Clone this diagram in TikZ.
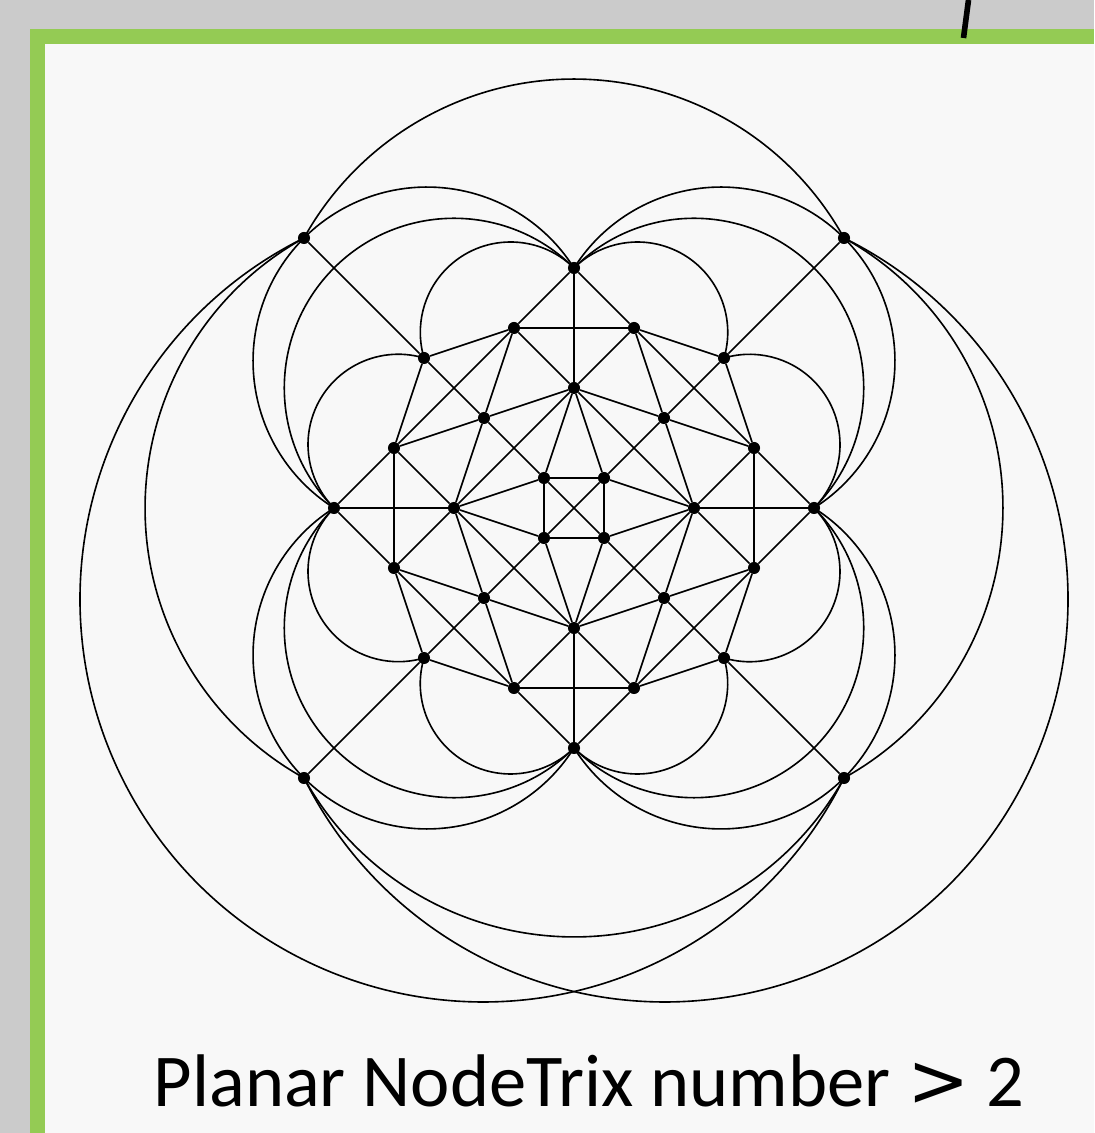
\documentclass[tikz,border=0pt]{standalone}
\usepackage{fontspec}
\setmainfont{Carlito}
\newfontfamily\symbolfont{DejaVu Sans}
\definecolor{framegreen}{RGB}{148,203,84}
\definecolor{photogrey}{RGB}{203,203,203}
\definecolor{paper}{RGB}{248,248,248}
\begin{document}
\begin{tikzpicture}[x=0.025cm,y=0.025cm,
  dot/.style={circle,fill=black,inner sep=0pt,minimum size=8.6pt},
  edge/.style={line width=1.15pt,draw=black}]
\useasboundingbox (0,0) rectangle (1094,1133);
% background and frame
\fill[photogrey] (0,0) rectangle (1094,1133);
\fill[framegreen] (30,0) rectangle (1094,1104);
\fill[paper] (45,0) rectangle (1094,1089);
\draw[line width=4pt,line cap=butt] (968.5,1133) -- (963.5,1095);
\begin{scope}[shift={(574,625)}]
  % vertices (four-fold rotational symmetry)
  \foreach \k in {0,1,2,3}{
    \begin{scope}[rotate=90*\k]
      \node[dot] (c\k)  at (-270,270) {};
      \node[dot] (n\k)  at (0,240) {};
      \node[dot] (p\k)  at (-150,150) {};
      \node[dot] (qa\k) at (-60,180) {};
      \node[dot] (qb\k) at (60,180) {};
      \node[dot] (i\k)  at (0,120) {};
      \node[dot] (d\k)  at (-90,90) {};
      \node[dot] (s\k)  at (-30,30) {};
    \end{scope}
  }
  % straight edges
  \foreach \k/\kn/\kp in {0/1/3,1/2/0,2/3/1,3/0/2}{
    \draw[edge] (c\k) -- (p\k);
    \draw[edge] (p\k) -- (d\k);
    \draw[edge] (d\k) -- (s\k);
    \draw[edge] (s\k) -- (s\kn);
    \draw[edge] (p\k) -- (qa\k);
    \draw[edge] (p\k) -- (qb\kn);
    \draw[edge] (n\k) -- (qa\k);
    \draw[edge] (n\k) -- (qb\k);
    \draw[edge] (n\k) -- (i\k);
    \draw[edge] (qa\k) -- (qb\k);
    \draw[edge] (qa\k) -- (i\k);
    \draw[edge] (qb\k) -- (i\k);
    \draw[edge] (qa\k) -- (d\k);
    \draw[edge] (qb\k) -- (d\kp);
    \draw[edge] (qa\k) -- (qb\kn);
    \draw[edge] (i\k) -- (d\k);
    \draw[edge] (i\k) -- (d\kp);
    \draw[edge] (i\k) -- (s\k);
    \draw[edge] (i\k) -- (s\kp);
    \draw[edge] (i\k) -- (i\kn);
  }
  \draw[edge] (s0) -- (s2);
  \draw[edge] (s1) -- (s3);
  % curved edges
  \foreach \k in {0,1,2,3}{
    % small petals
    \draw[edge] (n\k.center) arc[start angle={45.4+90*\k}, delta angle=151.1, radius=90.3];
    \draw[edge] (p\k.center) arc[start angle={73.47+90*\k}, delta angle=151.1, radius=90.3];
    % side to side
    \draw[edge] (n\k.center) arc[start angle={45+90*\k}, delta angle=180, radius=169.71];
    % side to corner, corner to side
    \draw[edge] (n\k.center) arc[start angle={32.32+90*\k}, delta angle=102.68, radius=173.95];
    \draw[edge] (c\k.center) arc[start angle={135+90*\k}, delta angle=102.68, radius=173.95];
  }
  % corner to corner
  \foreach \k/\kp in {0/3,1/0,2/1,3/2}{
    \draw[edge] (c\kp.center) arc[start angle={29.05+90*\k}, delta angle=121.89, radius=308.87];
  }
  % two long arcs
  \draw[edge] (c0.center) arc[start angle=116.375, delta angle=217.25, radius=402.94];
  \draw[edge] (c3.center) arc[start angle=63.625, delta angle=-217.25, radius=402.94];
\end{scope}
\node[anchor=base,font=\fontsize{53}{60}\selectfont,inner sep=0pt] (caption) at (589,27)
  {Planar NodeTrix number {\symbolfont >} 2};
\end{tikzpicture}
\end{document}
